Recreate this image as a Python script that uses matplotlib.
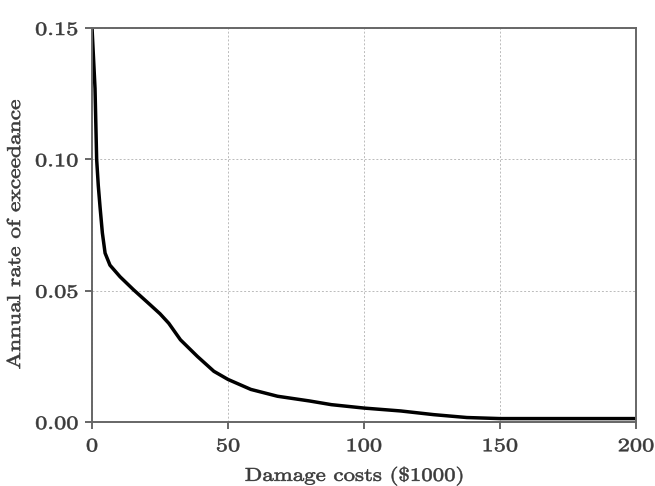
import matplotlib
matplotlib.use("Agg")
import matplotlib.pyplot as plt
from matplotlib.patheffects import AbstractPathEffect
from matplotlib.transforms import Affine2D

plt.rcParams['font.family'] = ['cmr10', 'DejaVu Serif']
plt.rcParams['axes.formatter.use_mathtext'] = True

# damage costs ($1000) and annual rate of exceedance
cost = [0, 1.1, 1.7, 2.3, 2.95, 3.8, 4.8, 6.6, 10.3, 15.3, 21.4, 25, 28.2,
        32.5, 38.7, 44.8, 50, 58.4, 68.2, 80, 88, 100, 113.5, 125.6, 137.8,
        150, 175, 200]
rate = [0.150, 0.127, 0.100, 0.090, 0.0818, 0.072, 0.0643, 0.0597, 0.0553,
        0.0503, 0.0446, 0.0412, 0.0376, 0.0313, 0.0250, 0.0193, 0.0162,
        0.0124, 0.0098, 0.0080, 0.0066, 0.0053, 0.0042, 0.0028, 0.0017,
        0.0013, 0.0013, 0.0013]

xticks = [0, 50, 100, 150, 200]
yticks = [0.00, 0.05, 0.10, 0.15]


# the original text is set wide and a bit heavy: stretch the glyphs along
# the text direction and give them a thin outline
class Stretch(AbstractPathEffect):
    def __init__(self, sx, align=0.5):
        super().__init__()
        self.sx = sx
        self.align = align

    def draw_path(self, renderer, gc, tpath, affine, rgbFace=None):
        ext = tpath.get_extents()
        x0 = ext.x0 + self.align * ext.width
        t = Affine2D().translate(-x0, 0).scale(self.sx, 1).translate(x0, 0)
        gc0 = renderer.new_gc()
        gc0.copy_properties(gc)
        gc0.set_linewidth(0.4)
        gc0.set_foreground(rgbFace)
        renderer.draw_path(gc0, tpath, t + affine, rgbFace)
        gc0.restore()


fig = plt.figure(figsize=(6.55, 4.86), dpi=100)
ax = fig.add_axes([0.1405, 0.1317, 0.8305, 0.8107])

ax.plot(cost, rate, color="black", linewidth=2.5, solid_joinstyle="round")

ax.set_xlim(0, 200)
ax.set_ylim(0, 0.15)
ax.set_xticks(xticks)
ax.set_yticks(yticks)
ax.set_xticklabels([str(t) for t in xticks])
ax.set_yticklabels(["%.2f" % t for t in yticks])
ax.grid(True, color="#bbbbbb", linestyle=(0, (2, 2)), linewidth=0.7)

for s in ax.spines.values():
    s.set_color("#666666")
    s.set_linewidth(1.4)
ax.tick_params(direction="out", length=5, width=1.4, color="#666666",
               labelsize=13.5, labelcolor="#3a3a3a")
ax.tick_params(axis="x", pad=6)
ax.tick_params(axis="y", pad=5)

for lab in ax.get_xticklabels():
    lab.set_path_effects([Stretch(1.3, 0.5)])
for lab in ax.get_yticklabels():
    lab.set_path_effects([Stretch(1.3, 1.0)])

ax.set_xlabel("Damage costs (\\$1000)", fontsize=13.5, color="#3a3a3a",
              path_effects=[Stretch(1.22)])
ax.set_ylabel("Annual rate of exceedance", fontsize=13.5, color="#3a3a3a",
              path_effects=[Stretch(1.25)])
ax.xaxis.set_label_coords(0.482, -0.11)
ax.yaxis.set_label_coords(-0.125, 0.475)

fig.savefig("out.png", dpi=100)
